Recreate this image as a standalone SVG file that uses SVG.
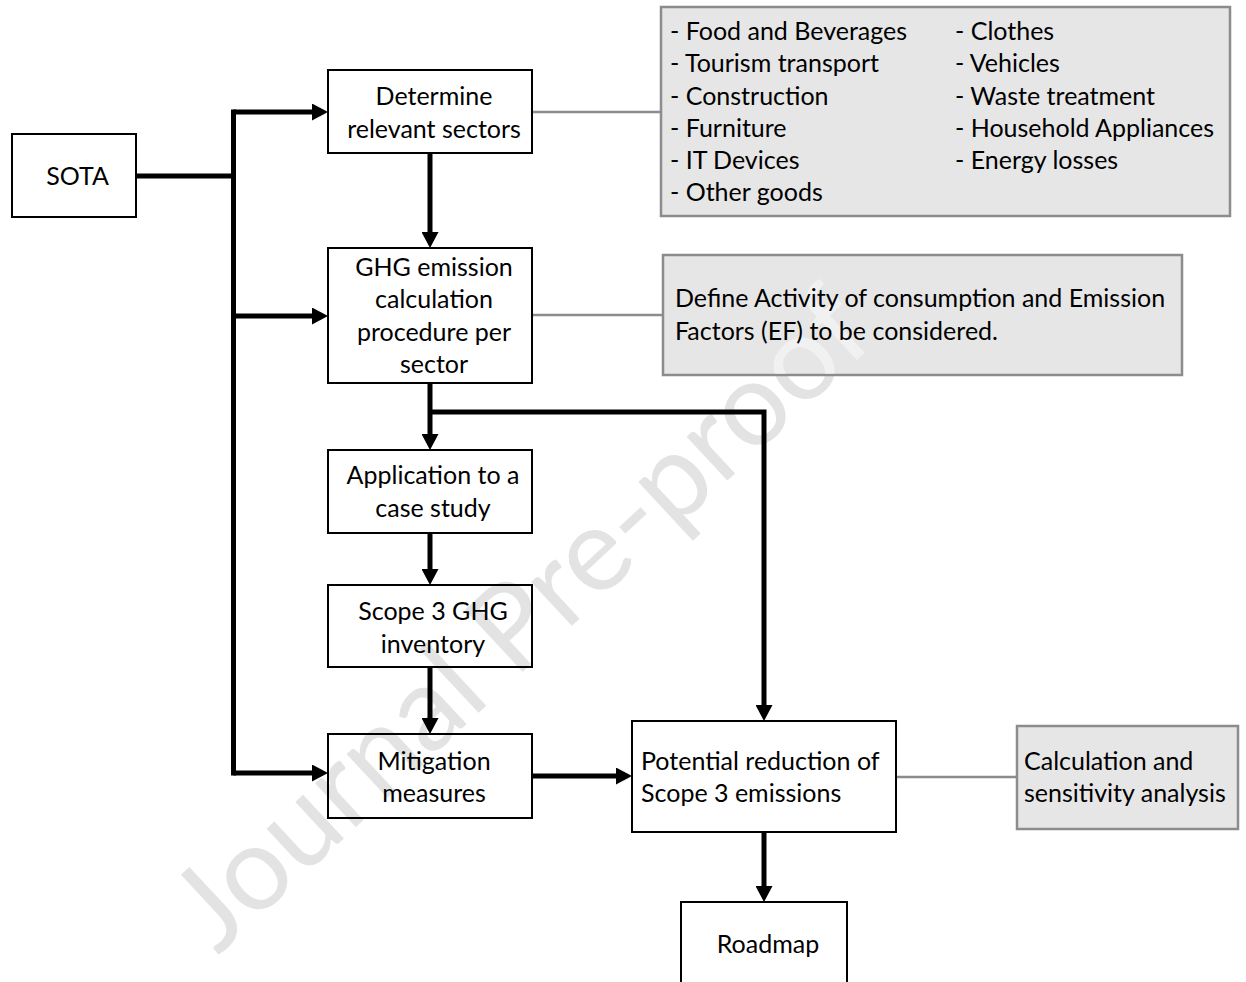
<svg xmlns="http://www.w3.org/2000/svg" width="1246" height="982" viewBox="0 0 1246 982">
<style>
  .box { fill: none; stroke: #000; stroke-width: 2; }
  .note { fill: #e6e6e6; stroke: #8c8c8c; stroke-width: 2.5; }
  .t { font-family: Lato, "Liberation Sans", sans-serif; font-size: 25px; fill: #000; }
  .c { text-anchor: middle; }
  .flow { fill: none; stroke: #000; stroke-width: 5; stroke-linejoin: miter; }
  .link { fill: none; stroke: #8c8c8c; stroke-width: 2.5; }
  .wm { font-family: Lato, "Liberation Sans", sans-serif; font-size: 118px; fill: #e3e3e3; text-anchor: middle; }
</style>
<defs>
  <marker id="ah" viewBox="0 0 16 17" refX="1" refY="8.5" markerWidth="16" markerHeight="17" markerUnits="userSpaceOnUse" orient="auto">
    <path d="M0,0 L16,8.5 L0,17 z" fill="#000"/>
  </marker>
  <clipPath id="defineClip">
    <rect x="664.5" y="256.5" width="516" height="117"/>
  </clipPath>
</defs>
<rect width="1246" height="982" fill="#fff"/>
<g id="watermark">
  <text class="wm" transform="translate(548,648) rotate(-43)" x="0" y="0">Journal Pre-proof</text>
</g>
<g id="connectors">
  <path class="flow" d="M136,176 H233.5"/>
  <path class="flow" d="M233.5,109.5 V775.5"/>
  <path class="flow" d="M233.5,112 H313" marker-end="url(#ah)"/>
  <path class="flow" d="M233.5,316 H313" marker-end="url(#ah)"/>
  <path class="flow" d="M233.5,773 H313" marker-end="url(#ah)"/>
  <path class="flow" d="M430,153 V233" marker-end="url(#ah)"/>
  <path class="flow" d="M430,383 V435" marker-end="url(#ah)"/>
  <path class="flow" d="M430,412 H764 V706" marker-end="url(#ah)"/>
  <path class="flow" d="M430,533 V570" marker-end="url(#ah)"/>
  <path class="flow" d="M430,667 V719" marker-end="url(#ah)"/>
  <path class="flow" d="M532,776 H617" marker-end="url(#ah)"/>
  <path class="flow" d="M764,832 V887" marker-end="url(#ah)"/>
  <path class="link" d="M532,112 H661"/>
  <path class="link" d="M532,315 H663"/>
  <path class="link" d="M896,777 H1017"/>
</g>
<g id="sota">
  <rect class="box" x="12" y="134" width="124" height="83"/>
  <text class="t c" x="77.5" y="185">SOTA</text>
</g>
<g id="determine">
  <rect class="box" x="328" y="70" width="204" height="83"/>
  <text class="t c" x="434" y="105">Determine</text>
  <text class="t c" x="434" y="138">relevant sectors</text>
</g>
<g id="sectors-list">
  <rect class="note" x="661" y="7" width="569" height="209"/>
  <text class="t" x="670" y="40">- Food and Beverages</text>
  <text class="t" x="670" y="72">- Tourism transport</text>
  <text class="t" x="670" y="105">- Construction</text>
  <text class="t" x="670" y="137">- Furniture</text>
  <text class="t" x="670" y="169">- IT Devices</text>
  <text class="t" x="670" y="201">- Other goods</text>
  <text class="t" x="955" y="40">- Clothes</text>
  <text class="t" x="955" y="72">- Vehicles</text>
  <text class="t" x="955" y="105">- Waste treatment</text>
  <text class="t" x="955" y="137">- Household Appliances</text>
  <text class="t" x="955" y="169">- Energy losses</text>
</g>
<g id="ghg">
  <rect class="box" x="328" y="248" width="204" height="135"/>
  <text class="t c" x="434" y="276">GHG emission</text>
  <text class="t c" x="434" y="308">calculation</text>
  <text class="t c" x="434" y="341">procedure per</text>
  <text class="t c" x="434" y="373">sector</text>
</g>
<g id="define">
  <rect class="note" x="663" y="255" width="519" height="120"/>
  <g clip-path="url(#defineClip)" aria-hidden="true">
    <text class="wm" style="fill:#f1f1f1" transform="translate(548,648) rotate(-43)" x="0" y="0">Journal Pre-proof</text>
  </g>
  <text class="t" x="675" y="307">Define Activity of consumption and Emission</text>
  <text class="t" x="675" y="340">Factors (EF) to be considered.</text>
</g>
<g id="application">
  <rect class="box" x="328" y="450" width="204" height="83"/>
  <text class="t c" x="433" y="484">Application to a</text>
  <text class="t c" x="433" y="517">case study</text>
</g>
<g id="scope3">
  <rect class="box" x="328" y="585" width="204" height="82"/>
  <text class="t c" x="433" y="620">Scope 3 GHG</text>
  <text class="t c" x="433" y="653">inventory</text>
</g>
<g id="mitigation">
  <rect class="box" x="328" y="734" width="204" height="84"/>
  <text class="t c" x="434" y="770">Mitigation</text>
  <text class="t c" x="434" y="802">measures</text>
</g>
<g id="potential">
  <rect class="box" x="632" y="721" width="264" height="111"/>
  <text class="t" x="641" y="770">Potential reduction of</text>
  <text class="t" x="641" y="802">Scope 3 emissions</text>
</g>
<g id="calculation">
  <rect class="note" x="1017" y="726" width="221" height="103"/>
  <text class="t" x="1024" y="770">Calculation and</text>
  <text class="t" x="1024" y="802">sensitivity analysis</text>
</g>
<g id="roadmap">
  <rect class="box" x="681" y="902" width="166" height="100"/>
  <text class="t c" x="768" y="953">Roadmap</text>
</g>
</svg>
